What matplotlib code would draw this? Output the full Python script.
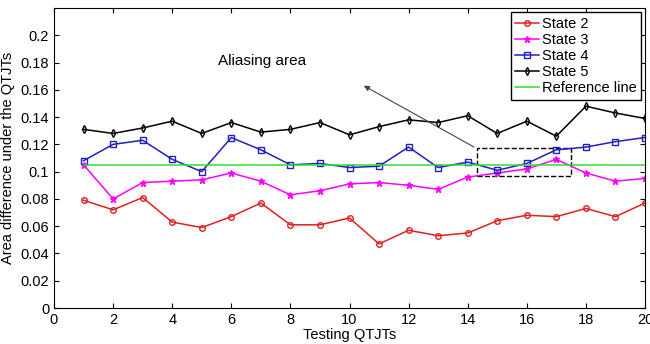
import matplotlib
matplotlib.use("Agg")
import matplotlib.pyplot as plt
from matplotlib.patches import Rectangle

plt.rcParams['font.family'] = ['Liberation Sans', 'DejaVu Sans']

x = list(range(1, 21))
state2 = [0.079, 0.072, 0.081, 0.063, 0.059, 0.067, 0.077, 0.061, 0.061, 0.066,
          0.047, 0.057, 0.053, 0.055, 0.064, 0.068, 0.067, 0.073, 0.067, 0.077]
state3 = [0.105, 0.080, 0.092, 0.093, 0.094, 0.099, 0.093, 0.083, 0.086, 0.091,
          0.092, 0.090, 0.087, 0.096, 0.099, 0.102, 0.109, 0.099, 0.093, 0.095]
state4 = [0.108, 0.120, 0.123, 0.109, 0.100, 0.125, 0.116, 0.105, 0.106, 0.103,
          0.104, 0.118, 0.103, 0.107, 0.101, 0.106, 0.116, 0.118, 0.122, 0.125]
state5 = [0.131, 0.128, 0.132, 0.137, 0.128, 0.136, 0.129, 0.131, 0.136, 0.127,
          0.133, 0.138, 0.136, 0.141, 0.128, 0.137, 0.126, 0.148, 0.143, 0.139]
ref_value = 0.105

fig = plt.figure(figsize=(6.5, 3.44), dpi=100)
ax = fig.add_axes([54/650, 1 - 308/344, (645-54)/650, (308-8)/344])

ax.plot(x, state2, color="#e02020", marker="o", ms=4, mfc="none", lw=1.1, label="State 2")
ax.plot(x, state3, color="#ff00ff", marker="*", ms=5, lw=1.1, label="State 3")
ax.plot(x, state4, color="#2020c0", marker="s", ms=4, mfc="none", lw=1.1, label="State 4")
ax.plot(x, state5, color="black", marker="d", ms=4, mfc="none", lw=1.1, label="State 5")
ax.plot([x[0], x[-1]], [ref_value, ref_value], color="#33dd33", lw=1.1, label="Reference line")

# aliasing box and arrow
ax.add_patch(Rectangle((14.3, 0.097), 3.2, 0.020, fill=False, ls="--", ec="black", lw=1))
ax.annotate("", xy=(10.4, 0.164), xytext=(14.3, 0.117),
            arrowprops=dict(arrowstyle="-|>", color="#444444", lw=0.8, mutation_scale=8))
ax.text(5.55, 0.178, "Aliasing area", fontsize=11)

ax.set_xlim(0, 20)
ax.set_ylim(0, 0.22)
ax.set_xticks(range(0, 21, 2))
ax.set_yticks([i * 0.02 for i in range(11)])
ax.set_yticklabels(["0", "0.02", "0.04", "0.06", "0.08", "0.1", "0.12", "0.14", "0.16", "0.18", "0.2"])
ax.tick_params(direction="in", top=True, right=True, labelsize=10.5)
ax.set_xlabel("Testing QTJTs", fontsize=10.5, labelpad=1)
ax.set_ylabel("Area difference under the QTJTs", fontsize=10.5)

ax.legend(loc="upper right", fontsize=10.5, handlelength=1.6, handletextpad=0.2,
          borderpad=0.3, labelspacing=0.15, fancybox=False, edgecolor="black", framealpha=1,
          borderaxespad=0.3)

fig.savefig("out.png", dpi=100)
